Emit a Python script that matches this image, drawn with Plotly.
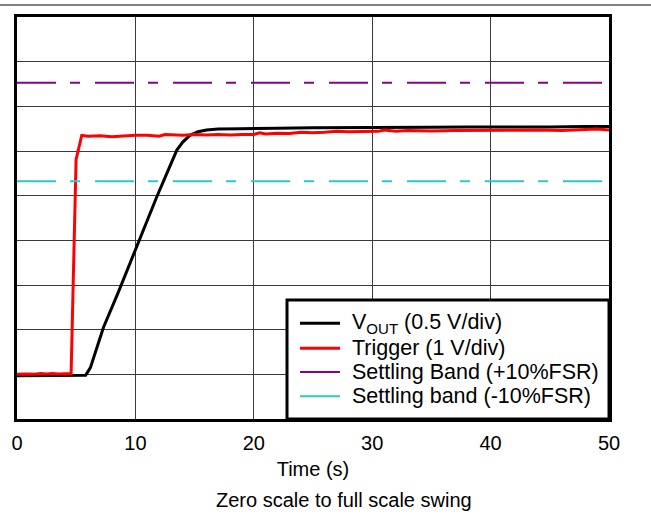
import plotly.graph_objects as go

# Time axis values (s) and traces in divisions (9 vertical divisions, no y labels)
t_vout = [0, 2, 4, 5, 5.8, 6.2, 7.3, 8.5, 10.1, 11.8, 13.5, 14.0, 14.6, 15.3, 16.0, 17, 18.9,
          20, 22, 25, 28, 30, 32, 35, 38, 40, 43, 45, 48, 50]
vout = [0.97, 0.97, 0.97, 0.97, 0.98, 1.15, 2.05, 2.8, 3.85, 4.97, 6.02, 6.2, 6.35, 6.43, 6.47, 6.49, 6.50,
        6.50, 6.51, 6.52, 6.52, 6.53, 6.52, 6.53, 6.54, 6.54, 6.53, 6.54, 6.55, 6.55]

t_trig = [0, 0.8, 1.5, 2.0, 2.5, 3.0, 3.5, 4.0, 4.57, 4.99, 5.47, 6, 7, 8, 9, 10, 11, 12, 12.5, 13,
          14, 15, 16, 17, 18, 19, 20, 20.5, 21, 22, 23, 24, 25, 26, 27, 28, 29, 30, 30.5, 31, 32,
          33, 35, 37, 40, 42, 44, 46, 48, 49, 50]
trig = [1.0, 1.01, 1.0, 1.02, 1.01, 1.02, 1.01, 1.02, 1.02, 5.81, 6.35, 6.33, 6.34, 6.32, 6.34, 6.35,
        6.35, 6.33, 6.37, 6.36, 6.35, 6.37, 6.36, 6.37, 6.36, 6.37, 6.37, 6.41, 6.38, 6.40, 6.39,
        6.42, 6.41, 6.42, 6.44, 6.43, 6.44, 6.45, 6.44, 6.47, 6.44, 6.46, 6.45, 6.46, 6.47, 6.46,
        6.47, 6.46, 6.48, 6.49, 6.47]

t_band = [0, 50]
band_plus = [7.53, 7.53]
band_minus = [5.32, 5.32]

x_ticks = [0, 10, 20, 30, 40, 50]
labels = ["V<sub>OUT</sub> (0.5 V/div)", "Trigger (1 V/div)",
          "Settling Band (+10%FSR)", "Settling band (-10%FSR)"]
colors = ["black", "#FF0000", "#8B008B", "#2EC8C8"]
widths = [3, 3, 2, 2]

FONT = "Liberation Sans, Arial, sans-serif"
DASH = "39px,14px,10px,15px"

fig = go.Figure()
fig.add_trace(go.Scatter(x=t_vout, y=vout, mode="lines", name=labels[0],
                         line=dict(color=colors[0], width=widths[0])))
fig.add_trace(go.Scatter(x=t_trig, y=trig, mode="lines", name=labels[1],
                         line=dict(color=colors[1], width=widths[1])))
fig.add_trace(go.Scatter(x=t_band, y=band_plus, mode="lines", name=labels[2],
                         line=dict(color=colors[2], width=widths[2], dash=DASH)))
fig.add_trace(go.Scatter(x=t_band, y=band_minus, mode="lines", name=labels[3],
                         line=dict(color=colors[3], width=widths[3], dash=DASH)))

# Legend box drawn in paper coordinates (bottom-right of plot area)
leg_x0, leg_x1, leg_y0, leg_y1 = 0.4561, 1.0, 0.0, 0.296
row_y = [0.2380, 0.1758, 0.1169, 0.0564]
sample_x0, sample_x1, text_x = 0.478, 0.5456, 0.5625

shapes = [
    dict(type="line", xref="paper", yref="paper", x0=-0.03, x1=1.08, y0=1.0299, y1=1.0299,
         line=dict(color="#808080", width=2)),
    dict(type="line", xref="paper", yref="paper", x0=1.08, x1=1.08, y0=1.0299, y1=-0.25,
         line=dict(color="#808080", width=2)),
    dict(type="rect", xref="paper", yref="paper", x0=leg_x0, x1=leg_x1, y0=leg_y0, y1=leg_y1,
         fillcolor="white", line=dict(color="black", width=3), layer="above"),
]
annotations = [dict(text="Zero scale to full scale swing", xref="paper", yref="paper",
                    x=0.552, y=-0.2015, xanchor="center", yanchor="middle",
                    showarrow=False, font=dict(size=20))]
for lab, col, w, ry in zip(labels, colors, widths, row_y):
    shapes.append(dict(type="line", xref="paper", yref="paper", x0=sample_x0, x1=sample_x1,
                       y0=ry, y1=ry, line=dict(color=col, width=w), layer="above"))
    annotations.append(dict(text=lab, xref="paper", yref="paper", x=text_x, y=ry,
                            xanchor="left", yanchor="middle", showarrow=False,
                            font=dict(size=21.5, family=FONT, color="black")))

fig.update_layout(
    width=651, height=516,
    margin=dict(l=17, r=42, t=17, b=97),
    paper_bgcolor="white", plot_bgcolor="white",
    font=dict(family=FONT, size=20, color="black"),
    showlegend=False,
    xaxis=dict(range=[0, 50], tickvals=x_ticks, showgrid=True, gridcolor="#3a3a3a", gridwidth=1,
               showline=True, linecolor="black", linewidth=3, mirror=True, zeroline=False,
               ticks="", tickfont=dict(size=20), ticklabelstandoff=4,
               title=dict(text="Time (s)", font=dict(size=20), standoff=9)),
    yaxis=dict(range=[0, 9], dtick=1, showgrid=True, gridcolor="#3a3a3a", gridwidth=1,
               showline=True, linecolor="black", linewidth=3, mirror=True, zeroline=False,
               showticklabels=False, ticks=""),
    annotations=annotations,
    shapes=shapes,
)

fig.write_html("out.html", config={"displayModeBar": False},
               post_script="document.body.style.margin='0';")
